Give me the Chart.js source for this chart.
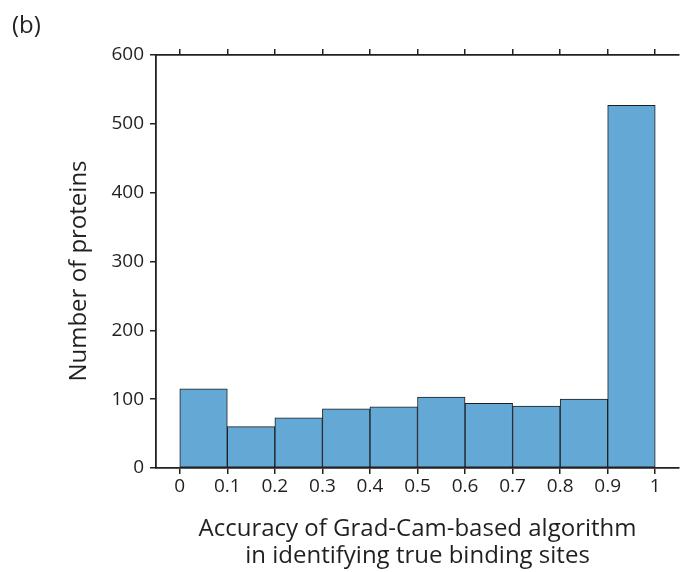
<!DOCTYPE html>
<html><head><meta charset="utf-8">
<script src="https://cdn.jsdelivr.net/npm/chart.js@4/dist/chart.umd.min.js"></script>
<style>
html,body{margin:0;padding:0;background:#fff;}
#wrap{position:relative;width:682px;height:572px;}
#panel{position:absolute;left:12px;top:12px;font:24px/1 "Open Sans",sans-serif;color:#231f20;}
#ytitle{position:absolute;left:-73px;top:259px;width:300px;text-align:center;font:24px/1 "Open Sans",sans-serif;color:#231f20;transform:rotate(-90deg);transform-origin:50% 50%;white-space:nowrap;}
</style></head><body>
<div id="wrap"><canvas id="c" width="682" height="572"></canvas><div id="panel">(b)</div><div id="ytitle"></div></div>
<script>
const binStarts = [0, 0.1, 0.2, 0.3, 0.4, 0.5, 0.6, 0.7, 0.8, 0.9];
const binWidth = 0.1;
const counts = [115, 60, 73, 86, 89, 103, 94, 90, 100, 527];
const xTicks = [0, 0.1, 0.2, 0.3, 0.4, 0.5, 0.6, 0.7, 0.8, 0.9, 1];
const yTicks = [0, 100, 200, 300, 400, 500, 600];
const xTitle = ["Accuracy of Grad-Cam-based algorithm", "in identifying true binding sites"];
const yTitle = "Number of proteins";

document.getElementById('ytitle').textContent = yTitle;

const ink = '#231f20';
const tickFont = {family: '"Open Sans", sans-serif', size: 19};
const titleFont = {family: '"Open Sans", sans-serif', size: 24, lineHeight: 1.125};

const points = binStarts.map((s, i) => ({x: s + binWidth / 2, y: counts[i]}));

const gridOpts = {drawOnChartArea: false, drawTicks: true, tickLength: 6, color: ink, lineWidth: 1.5, offset: false};
const borderOpts = {display: true, color: ink, width: 1.8};

new Chart(document.getElementById('c'), {
  type: 'bar',
  data: {
    datasets: [{
      data: points,
      backgroundColor: '#64a9d6',
      borderColor: '#1e1e1e',
      borderWidth: 1,
      borderSkipped: false,
      barPercentage: 1,
      categoryPercentage: 1,
      grouped: false
    }]
  },
  options: {
    responsive: false,
    animation: false,
    layout: {padding: {left: 0, right: 3, top: 0, bottom: 0}},
    plugins: {legend: {display: false}, tooltip: {enabled: false}},
    scales: {
      x: {
        type: 'linear', position: 'bottom', offset: false,
        min: -0.05, max: 1.05,
        afterBuildTicks: s => { s.ticks = xTicks.map(v => ({value: v})); },
        afterFit: s => { s.height = 104; },
        ticks: {font: tickFont, color: ink, padding: 1, maxRotation: 0,
          callback: v => String(Math.round(v * 10) / 10)},
        grid: gridOpts,
        border: borderOpts,
        title: {display: true, text: xTitle, font: titleFont, color: ink, padding: {top: 0, bottom: 2.5}}
      },
      x2: {
        type: 'linear', position: 'top', offset: false,
        min: -0.05, max: 1.05,
        afterBuildTicks: s => { s.ticks = xTicks.map(v => ({value: v})); },
        afterFit: s => { s.height = 55; },
        ticks: {display: false},
        grid: gridOpts,
        border: borderOpts
      },
      y: {
        type: 'linear', position: 'left',
        min: 0, max: 600,
        afterBuildTicks: s => { s.ticks = yTicks.map(v => ({value: v})); },
        afterFit: s => { s.width = 156; },
        ticks: {font: tickFont, color: ink, padding: 6},
        grid: gridOpts,
        border: borderOpts,
        title: {display: false}
      }
    }
  }
});
</script>
</body></html>
